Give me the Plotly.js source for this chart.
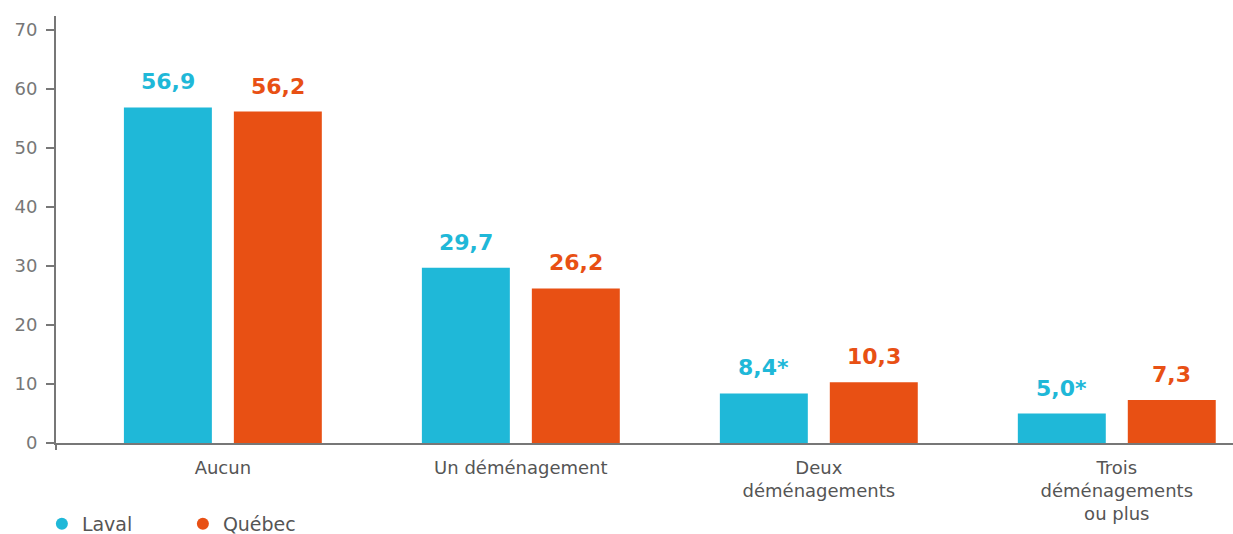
<!DOCTYPE html>
<html>
<head>
<meta charset="utf-8">
<script src="https://cdn.plot.ly/plotly-3.0.1.min.js"></script>
<style>html,body{margin:0;padding:0;background:#fff;}#chart{width:1233px;height:534px;}</style>
</head>
<body>
<div id="chart"></div>
<script>
const categories = ["Aucun", "Un déménagement", "Deux<br>déménagements", "Trois<br>déménagements<br>ou plus"];
const lavalValues = [56.9, 29.7, 8.4, 5.0];
const quebecValues = [56.2, 26.2, 10.3, 7.3];
const lavalLabels = ["56,9", "29,7", "8,4*", "5,0*"];
const quebecLabels = ["56,2", "26,2", "10,3", "7,3"];
const seriesNames = ["Laval", "Québec"];
const yTicks = [0, 10, 20, 30, 40, 50, 60, 70];

const cLaval = "#1FB8D8";
const cQuebec = "#E85014";
const FONT = "DejaVu Sans, sans-serif";

const xIdx = categories.map((c, i) => i);

const traces = [
  {type: "bar", x: xIdx, y: lavalValues, name: seriesNames[0], marker: {color: cLaval}, showlegend: false, hoverinfo: "none"},
  {type: "bar", x: xIdx, y: quebecValues, name: seriesNames[1], marker: {color: cQuebec}, showlegend: false, hoverinfo: "none"},
  {type: "scatter", mode: "markers", x: [null], y: [null], name: seriesNames[0], marker: {color: cLaval, size: 16, symbol: "circle"}},
  {type: "scatter", mode: "markers", x: [null], y: [null], name: seriesNames[1], marker: {color: cQuebec, size: 16, symbol: "circle"}}
];

const annotations = [];
xIdx.forEach(i => {
  annotations.push({x: i, y: lavalValues[i], text: lavalLabels[i], showarrow: false, xshift: -55, yshift: 11, yanchor: "bottom",
    font: {family: FONT, size: 22, color: cLaval, weight: 700}});
  annotations.push({x: i, y: quebecValues[i], text: quebecLabels[i], showarrow: false, xshift: 55, yshift: 11, yanchor: "bottom",
    font: {family: FONT, size: 22, color: cQuebec, weight: 700}});
});

const layout = {
  width: 1233, height: 534,
  margin: {l: 56, r: 0, t: 16, b: 91},
  paper_bgcolor: "#fff", plot_bgcolor: "#fff",
  barmode: "group", bargap: 0.262, bargroupgap: 0.2,
  showlegend: true,
  legend: {orientation: "h", xref: "paper", yref: "container", x: -0.012, y: 10/534, xanchor: "left", yanchor: "middle",
    entrywidth: 96, itemsizing: "constant",
    font: {family: FONT, size: 19, color: "#555"}, traceorder: "normal"},
  xaxis: {range: [-0.56, 3.39], tickvals: xIdx, ticktext: categories, showgrid: false, zeroline: false,
    showline: true, linecolor: "#777", linewidth: 2, ticks: "", ticklabelstandoff: 7,
    tickfont: {family: FONT, size: 18, color: "#555"}},
  yaxis: {range: [0, 72.4], tickvals: yTicks, ticktext: yTicks.map(String), showgrid: false, zeroline: false,
    showline: true, linecolor: "#777", linewidth: 2, ticks: "outside", ticklen: 8, tickcolor: "#777", tickwidth: 1.5,
    ticklabelstandoff: 5,
    tickfont: {family: FONT, size: 18, color: "#777"}},
  shapes: [{type: "line", xref: "paper", yref: "paper", x0: 0, x1: 0, y0: 0, y1: -7/427, line: {color: "#777", width: 2}}],
  annotations: annotations
};

Plotly.newPlot("chart", traces, layout, {displayModeBar: false, staticPlot: true});
</script>
</body>
</html>
